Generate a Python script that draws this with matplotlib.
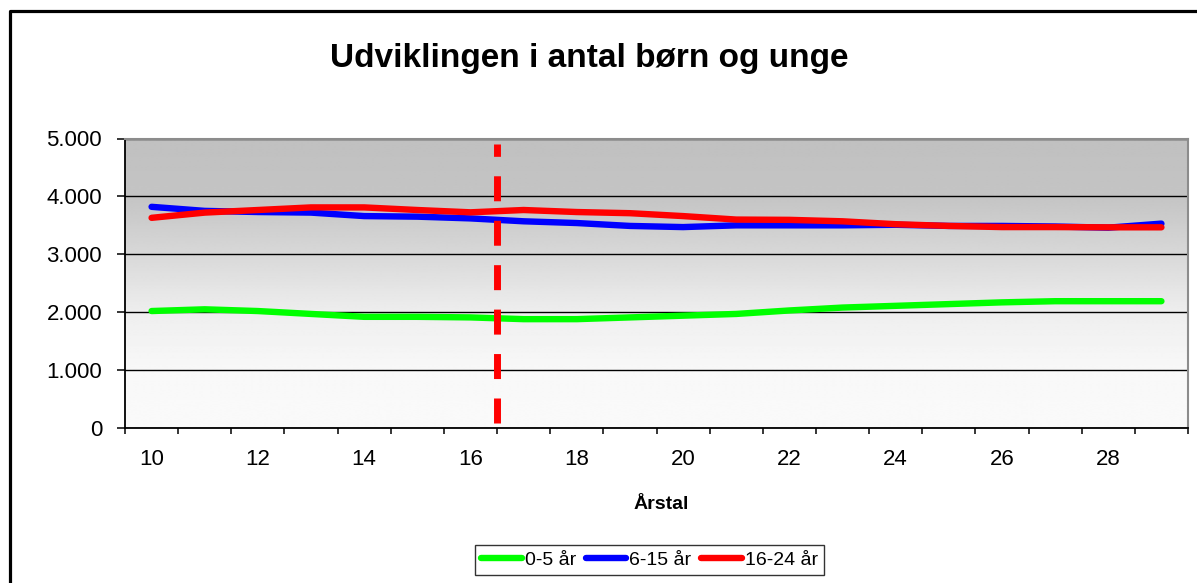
import numpy as np
import matplotlib
matplotlib.use('Agg')
import matplotlib.pyplot as plt
from matplotlib.lines import Line2D
from matplotlib.ticker import FuncFormatter, FixedLocator

plt.rcParams["font.family"] = ["Liberation Sans", "DejaVu Sans"]

# data
years = np.arange(2010, 2030)
age_0_5 = [2020, 2050, 2020, 1970, 1920, 1920, 1910, 1880, 1880, 1910,
           1940, 1970, 2030, 2080, 2110, 2140, 2170, 2190, 2190, 2190]
age_6_15 = [3820, 3750, 3730, 3720, 3660, 3650, 3620, 3570, 3540, 3490,
            3470, 3500, 3500, 3500, 3510, 3490, 3490, 3480, 3460, 3530]
age_16_24 = [3630, 3720, 3765, 3810, 3810, 3765, 3725, 3765, 3730, 3710,
             3660, 3600, 3595, 3570, 3520, 3490, 3470, 3470, 3466, 3466]
series_labels = ['0-5 år', '6-15 år', '16-24 år']
series_colors = ['#00ff00', '#0000ff', '#ff0000']
yticks = [0, 1000, 2000, 3000, 4000, 5000]
divider_year = 2016.5
divider_range = [86, 4905]

fig = plt.figure(figsize=(11.97, 5.83), dpi=100)
ax = fig.add_axes([125/1197, 1-428/583, 1063/1197, 289.5/583])

xlim = (years[0] - 0.5, years[-1] + 0.5)
ylim = (0, 5000)

# grey to white gradient background
grad_y = np.array([0, 1000, 2000, 3000, 4000, 5000])
grad_v = np.array([0xfa, 0xf8, 0xee, 0xd8, 0xc4, 0xc0]) / 255.0
yy = np.linspace(0, 5000, 300)
shade = np.interp(yy, grad_y, grad_v)
img = np.repeat(shade[:, None], 2, axis=1)
ax.imshow(img, cmap='gray', vmin=0, vmax=1, origin='lower', aspect='auto',
          extent=[xlim[0], xlim[1], ylim[0], ylim[1]], zorder=0, interpolation='bilinear')

data = [age_0_5, age_6_15, age_16_24]
for vals, lab, col in zip(data, series_labels, series_colors):
    ax.plot(years, vals, color=col, lw=4.6, label=lab, solid_capstyle='round',
            solid_joinstyle='round', zorder=3)

ax.plot([divider_year, divider_year], divider_range, color='#ff0000', lw=5,
        ls=(0, (3.6, 2.8)), dash_capstyle='butt', zorder=4)

ax.set_xlim(*xlim)
ax.set_ylim(*ylim)

ax.set_yticks(yticks)
ax.yaxis.set_major_formatter(FuncFormatter(lambda v, p: f"{int(v):,}".replace(",", ".")))
ax.tick_params(axis='y', direction='out', length=6, width=1.1, labelsize=16, pad=10.5)

ax.xaxis.set_major_locator(FixedLocator(years[::2]))
ax.xaxis.set_major_formatter(FuncFormatter(lambda v, p: f"{int(round(v)) % 100:02d}"))
ax.xaxis.set_minor_locator(FixedLocator(np.arange(xlim[0], xlim[1] + 0.1, 1)))
ax.tick_params(axis='x', which='major', length=0, labelsize=16, pad=15)
ax.tick_params(axis='x', which='minor', direction='out', length=4, width=1.1)

ax.grid(axis='y', color='black', lw=1.0)
ax.set_axisbelow(True)
ax.spines['left'].set_color('black')
ax.spines['bottom'].set_color('black')
ax.spines['left'].set_linewidth(1.3)
ax.spines['bottom'].set_linewidth(1.3)
ax.spines['top'].set_color('#8c8c8c')
ax.spines['right'].set_color('#8c8c8c')
ax.spines['top'].set_linewidth(1.5)
ax.spines['right'].set_linewidth(1.5)
for s in ax.spines.values():
    s.set_zorder(5)

fig.text(589.5/1197, 1-66.5/583, 'Udviklingen i antal børn og unge', fontsize=24,
         fontweight='bold', ha='center', va='baseline')
fig.text(661/1197, 1-509/583, 'Årstal', fontsize=14, fontweight='bold',
         ha='center', va='baseline')

leg = fig.legend(loc='center', bbox_to_anchor=(649.5/1197, 1-560/583), ncol=3,
                 fontsize=14, frameon=True, fancybox=False, handlelength=2.1,
                 handletextpad=0.15, columnspacing=0.5, borderpad=0.3,
                 borderaxespad=0)
leg.get_frame().set_edgecolor('black')
leg.get_frame().set_linewidth(1.0)

# outer chart border (left and top edges visible)
fig.add_artist(Line2D([10/1197, 10/1197, 1.0], [0.0, 1-11/583, 1-11/583],
                      color='black', lw=2.3, transform=fig.transFigure))

fig.savefig('out.png', dpi=100)
